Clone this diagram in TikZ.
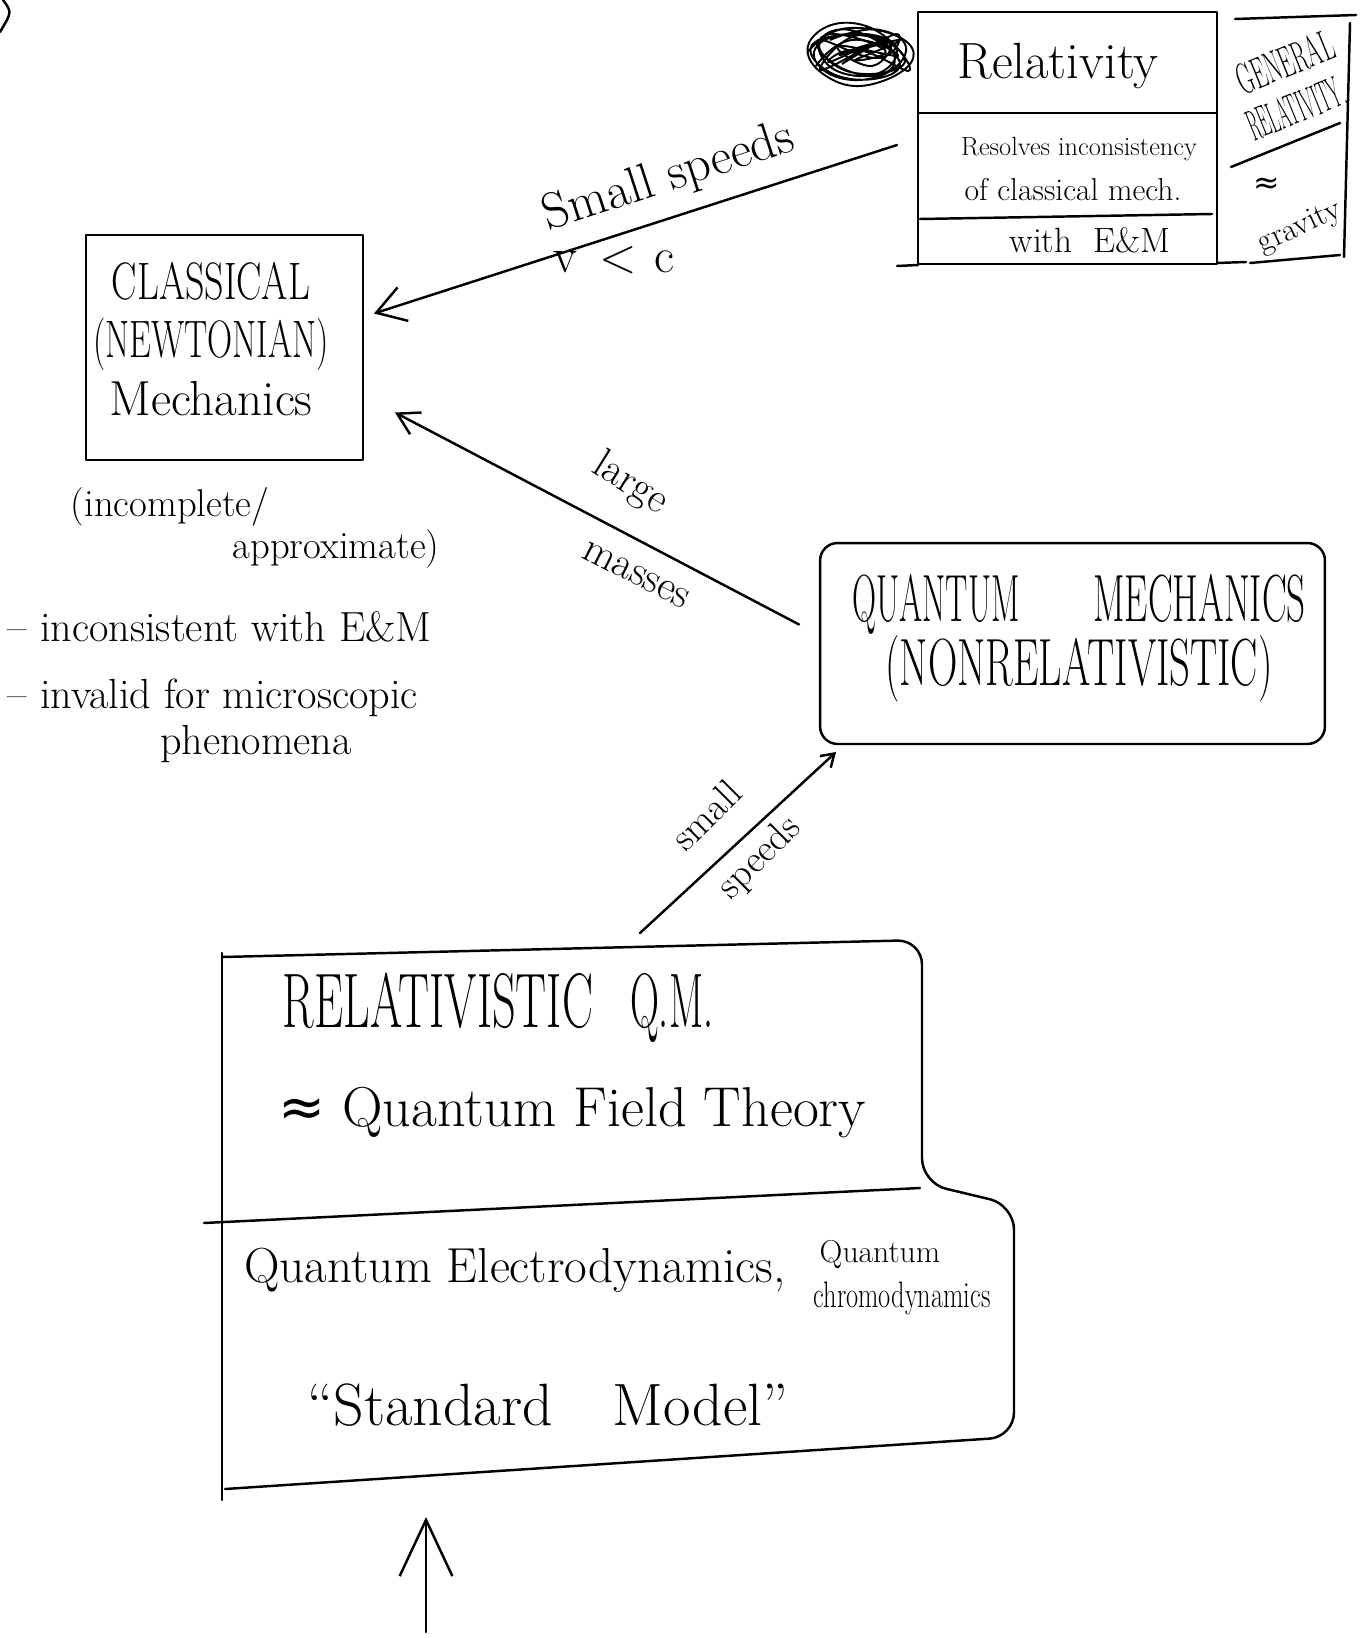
\documentclass[tikz,border=0pt]{standalone}
\usepackage{fontspec}
\usepackage{graphicx}
\newfontfamily\symf{DejaVu Sans}
\usetikzlibrary{arrows.meta}
\newcommand{\hwsq}[2]{\scalebox{#1}[1]{#2}}
\tikzset{
 hand/.style={line width=1.4pt,line cap=round,line join=round},
 boxn/.style={hand,draw,rectangle,inner sep=0pt,outer sep=0pt},
 ghost/.style={rectangle,inner sep=0pt,outer sep=0pt},
 txt/.style={inner sep=0pt,outer sep=0pt},
 fz/.style={font=\fontsize{#1}{#1}\selectfont},
 tipA/.style={-{Straight Barb[length=16pt,width=20pt]}},
 tipB/.style={-{Straight Barb[length=12pt,width=14pt]}},
 tipC/.style={-{Straight Barb[length=7pt,width=9pt]}},
 tipD/.style={-{Straight Barb[length=32pt,width=30pt]}},
}
\begin{document}
\begin{tikzpicture}[x=0.02cm,y=-0.02cm]
\useasboundingbox (0,0) rectangle (1370,1638);

% stray mark top-left
\draw[hand] (3,0) .. controls (12,12) .. (0,32);

% ---------- Classical box ----------
\node[boxn,minimum width=5.54cm,minimum height=4.5cm] (cls) at (224.5,347.5) {};
\node[txt,align=center,font=\fontsize{30}{33}\selectfont] (clsT) at (211,339)
  {\hwsq{0.72}{CLASSICAL}\\\hwsq{0.66}{(NEWTONIAN)}\\{\fontsize{28}{33}\selectfont Mechanics}};
\node[txt,fz=22] (n1) at (170,507) {(incomplete/};
\node[txt,fz=22] (n2) at (336,549) {approximate)};
\node[txt,fz=24,anchor=west] (n3) at (8,627) {-- inconsistent with E\&M};
\node[txt,fz=24,anchor=west] (n4) at (8,698) {-- invalid for microscopic};
\node[txt,fz=24] (n5) at (256,744) {phenomena};

% ---------- Relativity box ----------
\node[boxn,minimum width=5.98cm,minimum height=5.04cm] (rel) at (1067.5,138) {};
\draw[hand] (918,113) -- (1217,113);
\draw[hand] (920,219) -- (1212,214);
\draw[hand] (897,266) -- (918,265);
\draw[hand] (1217,263) -- (1246,262);
\node[txt,fz=29] (r1) at (1058,66) {Relativity};
\node[txt,fz=15] (r2) at (1079,149) {Resolves inconsistency};
\node[txt,fz=18] (r3) at (1073,190) {of classical mech.};
\node[txt,fz=20] (r4) at (1090,240) {with\hspace{0.6em}E\&M};

% scribble
\draw[line width=1.1pt,line join=round] plot[smooth,tension=0.9] coordinates {
 (830,40) (880,30) (905,55) (860,80) (815,60) (840,35) (895,45) (870,75)
 (820,50) (850,30) (900,65) (845,78) (812,45) (875,38) (890,70) (835,70)
 (825,35) (885,50) (855,60) (900,40) (840,55) (870,45) (820,70) (860,35)
 (905,62) (850,72) (818,40) (878,58) (896,34) (842,64)};
\draw[line width=1.1pt,line join=round] plot[smooth,tension=0.9] coordinates {
 (808,52) (850,28) (912,48) (880,82) (826,76) (812,38) (866,26) (910,70)
 (858,50) (830,62) (888,40) (872,66) (838,46) (898,56) (852,40) (816,66)};

% ---------- General relativity region ----------
\draw[hand] (1235,19) -- (1356,15);
\draw[hand] (1350,23) -- (1344,257);
\draw[hand] (1231,167) -- (1340,123);
\draw[hand] (1250,263) -- (1340,255);
\node[txt,rotate=22,fz=25] (gr1) at (1285,62) {\hwsq{0.5}{GENERAL}};
\node[txt,rotate=22,fz=25] (gr2) at (1296,108) {\hwsq{0.38}{RELATIVITY.}};
\node[txt,fz=18] (gr3) at (1267,186) {\symf ≈};
\node[txt,rotate=25,fz=18] (gr4) at (1300,228) {gravity};

% ---------- Quantum mechanics box ----------
\node[boxn,rounded corners=10pt,minimum width=10.1cm,minimum height=4.02cm] (qm) at (1072.5,643.5) {};
\node[txt,fz=38] (q1) at (1079,604) {\hwsq{0.5}{QUANTUM}\hspace{42pt}\hwsq{0.555}{MECHANICS}};
\node[txt,fz=38] (q2) at (1079,669) {\hwsq{0.61}{(NONRELATIVISTIC)}};

% ---------- Relativistic QM / Standard model box ----------
\node[ghost,minimum width=14cm,minimum height=4.72cm] (rqm) at (572,1068) {};
\node[ghost,minimum width=15.84cm,minimum height=5.4cm] (sm) at (618,1335) {};
\draw[hand] (222,953) -- (222,1500);
\draw[hand,rounded corners=14pt] (222,957) -- (922,940) -- (922,1183) -- (1014,1205) -- (1014,1437) -- (225,1489);
\draw[hand] (204,1223) -- (920,1188);
\node[txt,fz=44] (t1) at (498,1008) {\hwsq{0.6}{RELATIVISTIC}\hspace{21pt}\hwsq{0.52}{Q.M.}};
\node[txt,fz=32] (t2) at (572,1113) {{\symf ≈} Quantum Field Theory};
\node[txt,fz=28] (t3) at (515,1270) {Quantum Electrodynamics,};
\node[txt,fz=18] (t4) at (880,1255) {Quantum};
\node[txt,fz=15] (t5) at (902,1298) {\scalebox{1}[1.4]{chromodynamics}};
\node[txt,fz=34] (t6) at (548,1405) {``Standard\hspace{1em}Model''};

% ---------- Connectors ----------
\draw[hand,tipA] ([shift={(-21,7)}]rel.west) -- ([shift={(11,-34)}]cls.east);
\node[txt,rotate=18,fz=29] (lss) at (669,178) {Small speeds};
\node[txt,fz=28] (lvc) at (614,260) {v\hspace{0.45em}<\hspace{0.35em}c};

\draw[hand,tipB] ([shift={(-21,-19)}]qm.west) -- ([shift={(32,65)}]cls.east);
\node[txt,rotate=-32,fz=24] (llg) at (630,484) {large};
\node[txt,rotate=-27,fz=24] (lms) at (636,575) {masses};

\draw[hand,tipC] ([shift={(68,-17)}]rqm.north) -- ([shift={(16,8)}]qm.south west);
\node[txt,rotate=45,fz=22] (lsm) at (706,815) {small};
\node[txt,rotate=45,fz=22] (lsp) at (760,858) {speeds};

\coordinate (bst) at (426,1632);
\draw[hand,tipD] (bst) -- ([shift={(-192,47)}]sm.south);
\end{tikzpicture}
\end{document}
